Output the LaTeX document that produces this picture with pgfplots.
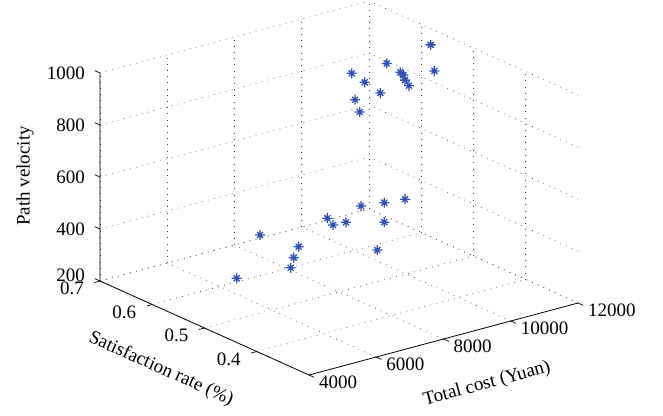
\documentclass[border=0pt]{standalone}
\usepackage{fontspec}
\setmainfont{Liberation Serif}
\usepackage{pgfplots}
\pgfplotsset{compat=1.18}
\usetikzlibrary{calc}
\definecolor{mblue}{RGB}{50,80,175}
% MATLAB-like '*' marker: plus with shorter diagonals
\pgfdeclareplotmark{mstar}{%
  \pgfpathmoveto{\pgfqpoint{-\pgfplotmarksize}{0pt}}\pgfpathlineto{\pgfqpoint{\pgfplotmarksize}{0pt}}%
  \pgfpathmoveto{\pgfqpoint{0pt}{-\pgfplotmarksize}}\pgfpathlineto{\pgfqpoint{0pt}{\pgfplotmarksize}}%
  \pgfpathmoveto{\pgfqpoint{-0.6\pgfplotmarksize}{-0.6\pgfplotmarksize}}\pgfpathlineto{\pgfqpoint{0.6\pgfplotmarksize}{0.6\pgfplotmarksize}}%
  \pgfpathmoveto{\pgfqpoint{-0.6\pgfplotmarksize}{0.6\pgfplotmarksize}}\pgfpathlineto{\pgfqpoint{0.6\pgfplotmarksize}{-0.6\pgfplotmarksize}}%
  \pgfusepathqstroke}
\newcommand\lbl{\fontsize{19}{22}\selectfont}

\begin{document}
\begin{tikzpicture}
\begin{axis}[
    x={(0.033625pt,0.009pt)}, y={(-522.5pt,235pt)}, z={(0pt,0.26pt)},
    xmin=4000, xmax=12000, ymin=0.3, ymax=0.7, zmin=200, zmax=1000,
    xtick={4000,6000,8000,10000,12000},
    ytick={0.4,0.5,0.6,0.7},
    ztick={200,400,600,800,1000},
    zticklabels={\raisebox{6pt}{200},400,600,800,1000},
    scaled x ticks=false, scaled z ticks=false,
    /pgf/number format/1000 sep={},
    /pgf/number format/assume math mode=true,
    yticklabel={\pgfmathprintnumber[fixed,precision=1]{\tick}},
    tick label style={font=\lbl},
    xticklabel style={anchor=north west, inner sep=0pt, xshift=10pt, yshift=-1pt},
    yticklabel style={anchor=north east, inner sep=0pt, xshift=-16pt, yshift=-1pt},
    zticklabel style={anchor=base east, inner sep=0pt, xshift=-15pt, yshift=-6.5pt},
    grid=major,
    grid style={black!75, line width=0.7pt, dash pattern=on 0.7pt off 5.5pt},
    axis line style={draw=none},
    tick style={draw=none},
    clip=false,
]
\addplot3[only marks, mark=mstar, mark size=5pt, mblue, mark options={line width=1.3pt}] coordinates {
    (11504,0.55,984) (11610,0.55,880) (10195,0.55,958) (9154,0.55,956)
    (9541,0.55,908) (10599,0.55,910) (10689,0.55,896) (10739,0.55,875)
    (10858,0.55,849) (10004,0.55,851) (9252,0.55,851) (9392,0.55,799)
};
\addplot3[only marks, mark=mstar, mark size=5pt, mblue, mark options={line width=1.3pt}] coordinates {
    (4874,0.45,573) (4181,0.45,430) (6025,0.45,488) (5876,0.45,451)
    (5787,0.45,415) (6875,0.45,568) (7045,0.45,536) (7431,0.45,533)
    (7877,0.45,580) (8570,0.45,569) (9186,0.45,561) (8570,0.45,494)
    (8362,0.45,394)
};
% MATLAB-style axis lines and outward ticks
\draw[black, line width=0.8pt] (axis cs:4000,0.7,1000) -- (axis cs:4000,0.7,200)
    -- (axis cs:4000,0.3,200) -- (axis cs:12000,0.3,200);
\pgfplotsinvokeforeach{200,400,600,800,1000}{
  \draw[black, line width=0.7pt] (axis cs:4000,0.7,#1) -- (axis cs:4000,0.71,#1);}
\pgfplotsinvokeforeach{4000,6000,8000,10000,12000}{
  \draw[black, line width=0.7pt] (axis cs:#1,0.3,200) -- (axis cs:#1,0.29,200);}
\pgfplotsinvokeforeach{0.4,0.5,0.6,0.7}{
  \draw[black, line width=0.7pt] (axis cs:4000,#1,200) -- (axis cs:3830,#1,200);}
\coordinate (O) at (axis cs:4000,0.3,200);
\end{axis}
\node[font=\lbl, rotate=15] at ($(O)+(178pt,-9pt)$) {Total cost (Yuan)};
\node[font=\lbl, rotate=-24] at ($(O)+(-148pt,6pt)$) {Satisfaction rate (\%)};
\node[font=\lbl, rotate=90] at ($(O)+(-284pt,199pt)$) {Path velocity};
\pgfresetboundingbox
\path[use as bounding box] ($(O)+(-309pt,-40pt)$) rectangle ($(O)+(354pt,375pt)$);
\end{tikzpicture}
\end{document}
